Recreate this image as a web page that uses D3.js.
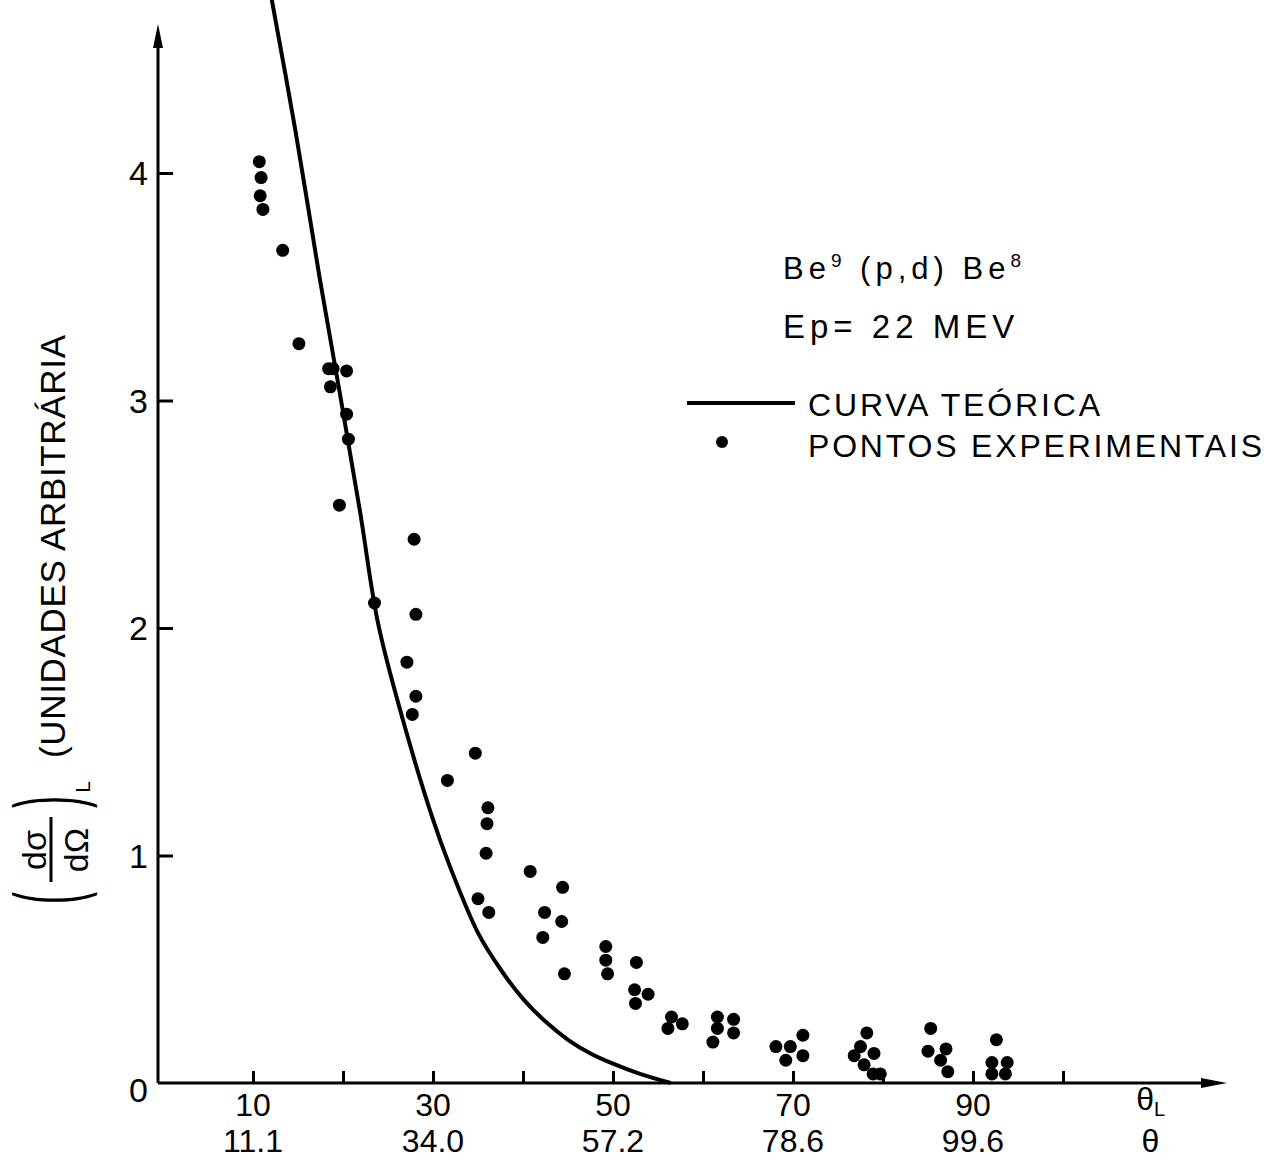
<!DOCTYPE html>
<html>
<head>
<meta charset="utf-8">
<script src="https://cdn.jsdelivr.net/npm/d3@7/dist/d3.min.js"></script>
<style>
  body { margin: 0; background: #fff; }
  svg { display: block; }
  text { font-family: "Liberation Sans", Arial, sans-serif; fill: #000; }
</style>
</head>
<body>
<svg id="chart" width="1270" height="1161"></svg>
<script>
"use strict";

// laboratory angle (deg) and cross section of the experimental points
var expAngle = [10.7, 10.9, 10.8, 11.1, 13.3, 15.1, 18.4, 18.9, 20.4, 18.6,
                20.4, 20.6, 19.6, 27.9, 23.5, 28.1, 27.1, 28.1, 27.7, 34.7,
                31.6, 36.1, 36.0, 35.9, 40.8, 44.4, 35.0, 36.2, 42.4, 44.3,
                42.2, 44.6, 49.2, 49.2, 49.4, 52.6, 52.4, 53.9, 52.5, 56.5,
                57.7, 56.1, 61.6, 61.6, 61.1, 63.4, 63.4, 68.1, 69.7, 71.1,
                71.1, 69.2, 78.2, 77.5, 76.8, 79.0, 77.9, 78.9, 79.7, 85.3,
                85.0, 87.0, 86.4, 87.2, 92.6, 92.1, 92.1, 93.8, 93.6];
var expValue = [4.05, 3.98, 3.90, 3.84, 3.66, 3.25, 3.14, 3.14, 3.13, 3.06,
                2.94, 2.83, 2.54, 2.39, 2.11, 2.06, 1.85, 1.70, 1.62, 1.45,
                1.33, 1.21, 1.14, 1.01, 0.93, 0.86, 0.81, 0.75, 0.75, 0.71,
                0.64, 0.48, 0.60, 0.54, 0.48, 0.53, 0.41, 0.39, 0.35, 0.29,
                0.26, 0.24, 0.29, 0.24, 0.18, 0.28, 0.22, 0.16, 0.16, 0.21,
                0.12, 0.10, 0.22, 0.16, 0.12, 0.13, 0.08, 0.04, 0.04, 0.24,
                0.14, 0.15, 0.10, 0.05, 0.19, 0.09, 0.04, 0.09, 0.04];

// theoretical curve
var theoryAngle = [12.0, 14.7, 17.4, 19.7, 21.9, 23.9, 26.7, 29.9, 31.9, 35.0, 37.5, 40.0, 42.5, 45.0, 47.5, 50.0, 53.0, 56.4];
var theoryValue = [4.78, 4.19, 3.54, 3.02, 2.51, 2.02, 1.59, 1.17, 0.95, 0.66, 0.50, 0.37, 0.27, 0.19, 0.13, 0.085, 0.04, 0.0];

// axis ticks
var xTicks = [10, 20, 30, 40, 50, 60, 70, 80, 90, 100];
var labAngleTicks = [10, 30, 50, 70, 90];
var labAngleLabels = ["10", "30", "50", "70", "90"];
var cmAngleLabels = ["11.1", "34.0", "57.2", "78.6", "99.6"];
var yTicks = [0, 1, 2, 3, 4];

var svg = d3.select("#chart");

var x = d3.scaleLinear().domain([0, 100]).range([163, 1063]);
var y = d3.scaleLinear().domain([0, 4]).range([1083, 173]);

var axisX0 = 158, axisTop = 24, axisRight = 1227;

// axes lines with arrow heads
svg.append("line")
  .attr("x1", axisX0).attr("y1", y(0))
  .attr("x2", axisX0).attr("y2", axisTop + 20)
  .attr("stroke", "#000").attr("stroke-width", 3);
svg.append("path")
  .attr("d", "M" + axisX0 + "," + axisTop + " L" + (axisX0 + 5) + "," + (axisTop + 24) +
             " L" + (axisX0 - 5) + "," + (axisTop + 24) + " Z")
  .attr("fill", "#000");

svg.append("line")
  .attr("x1", axisX0).attr("y1", y(0))
  .attr("x2", axisRight - 20).attr("y2", y(0))
  .attr("stroke", "#000").attr("stroke-width", 3);
svg.append("path")
  .attr("d", "M" + axisRight + "," + y(0) + " L" + (axisRight - 26) + "," + (y(0) - 5) +
             " L" + (axisRight - 26) + "," + (y(0) + 5) + " Z")
  .attr("fill", "#000");

// x ticks (pointing up)
var xAxis = svg.append("g")
  .attr("transform", "translate(0," + y(0) + ")")
  .call(d3.axisBottom(x).tickValues(xTicks).tickSize(-12).tickFormat(""));
xAxis.select(".domain").remove();
xAxis.selectAll(".tick line").attr("stroke-width", 3);

// y ticks (pointing right) with labels on the left
var yAxis = svg.append("g")
  .attr("transform", "translate(" + axisX0 + ",0)")
  .call(d3.axisLeft(y).tickValues(yTicks).tickFormat(d3.format("d"))
          .tickSizeInner(-15).tickSizeOuter(0).tickPadding(10));
yAxis.select(".domain").remove();
yAxis.selectAll(".tick line")
  .attr("stroke-width", 3)
  .attr("display", function(d){ return d === 0 ? "none" : null; });
yAxis.selectAll(".tick text")
  .attr("font-family", "Liberation Sans, Arial, sans-serif")
  .attr("font-size", 34)
  .attr("dy", function(d){ return d === 0 ? "0.55em" : "0.35em"; });

// two rows of angle labels
svg.selectAll(".lab_label")
  .data(labAngleTicks)
  .enter()
  .append("text")
  .attr("class", "lab_label")
  .attr("x", function(d){ return x(d); })
  .attr("y", 1116)
  .attr("text-anchor", "middle")
  .attr("font-size", 32)
  .text(function(d, i){ return labAngleLabels[i]; });

svg.selectAll(".cm_label")
  .data(labAngleTicks)
  .enter()
  .append("text")
  .attr("class", "cm_label")
  .attr("x", function(d){ return x(d); })
  .attr("y", 1152)
  .attr("text-anchor", "middle")
  .attr("font-size", 32)
  .text(function(d, i){ return cmAngleLabels[i]; });

var thetaLabelAngle = 109.7;
var thL = svg.append("text")
  .attr("x", x(thetaLabelAngle) - 14)
  .attr("y", 1110)
  .attr("font-size", 32)
  .text("θ");
thL.append("tspan").attr("font-size", 20).attr("dy", 6).text("L");
svg.append("text")
  .attr("x", x(thetaLabelAngle))
  .attr("y", 1152)
  .attr("text-anchor", "middle")
  .attr("font-size", 32)
  .text("θ");

// theoretical curve
var line = d3.line()
  .x(function(d){ return x(d[0]); })
  .y(function(d){ return y(d[1]); })
  .curve(d3.curveCatmullRom.alpha(0.5));

svg.append("path")
  .datum(d3.zip(theoryAngle, theoryValue))
  .attr("d", line)
  .attr("fill", "none")
  .attr("stroke", "#000")
  .attr("stroke-width", 4);

// experimental points
svg.selectAll(".exp_point")
  .data(d3.zip(expAngle, expValue))
  .enter()
  .append("circle")
  .attr("class", "exp_point")
  .attr("cx", function(d){ return x(d[0]); })
  .attr("cy", function(d){ return y(d[1]); })
  .attr("r", 6.5)
  .attr("fill", "#000");

// legend block
var reaction = svg.append("text")
  .attr("x", 783).attr("y", 279)
  .attr("font-size", 31)
  .attr("letter-spacing", 5);
reaction.append("tspan").text("Be");
reaction.append("tspan").attr("font-size", 19).attr("dy", -12).text("9");
reaction.append("tspan").attr("dy", 12).text(" (p,d) Be");
reaction.append("tspan").attr("font-size", 19).attr("dy", -12).text("8");

svg.append("text")
  .attr("x", 783).attr("y", 338)
  .attr("font-size", 33)
  .attr("letter-spacing", 5)
  .text("Ep= 22  MEV");

svg.append("line")
  .attr("x1", 687).attr("y1", 403)
  .attr("x2", 795).attr("y2", 403)
  .attr("stroke", "#000").attr("stroke-width", 4);
svg.append("text")
  .attr("x", 808).attr("y", 416)
  .attr("font-size", 32)
  .attr("textLength", 292)
  .attr("lengthAdjust", "spacing")
  .text("CURVA  TEÓRICA");

svg.append("circle")
  .attr("cx", 722).attr("cy", 442)
  .attr("r", 6)
  .attr("fill", "#000");
svg.append("text")
  .attr("x", 808).attr("y", 457)
  .attr("font-size", 32)
  .attr("textLength", 454)
  .attr("lengthAdjust", "spacing")
  .text("PONTOS  EXPERIMENTAIS");

// y axis title
svg.append("text")
  .attr("transform", "translate(65,758) rotate(-90)")
  .attr("font-size", 35)
  .attr("textLength", 423)
  .attr("lengthAdjust", "spacing")
  .text("(UNIDADES  ARBITRÁRIA");

var frac = svg.append("g")
  .attr("transform", "translate(51,850) rotate(-90)");
frac.append("line")
  .attr("x1", -32).attr("y1", 0)
  .attr("x2", 33).attr("y2", 0)
  .attr("stroke", "#000").attr("stroke-width", 3);
frac.append("text")
  .attr("x", 0).attr("y", -5)
  .attr("text-anchor", "middle")
  .attr("font-size", 34)
  .text("dσ");
frac.append("text")
  .attr("x", 0).attr("y", 37)
  .attr("text-anchor", "middle")
  .attr("font-size", 34)
  .text("dΩ");
// tall flat parentheses (glyphs flipped so their box stays inside the page)
frac.append("text")
  .attr("transform", "translate(-48,-20) scale(0.4,-1)")
  .attr("text-anchor", "middle")
  .attr("font-size", 90)
  .text("(");
frac.append("text")
  .attr("transform", "translate(48,-20) scale(0.4,-1)")
  .attr("text-anchor", "middle")
  .attr("font-size", 90)
  .text(")");
frac.append("text")
  .attr("x", 63).attr("y", 39)
  .attr("text-anchor", "middle")
  .attr("font-size", 21)
  .text("L");
</script>
</body>
</html>
